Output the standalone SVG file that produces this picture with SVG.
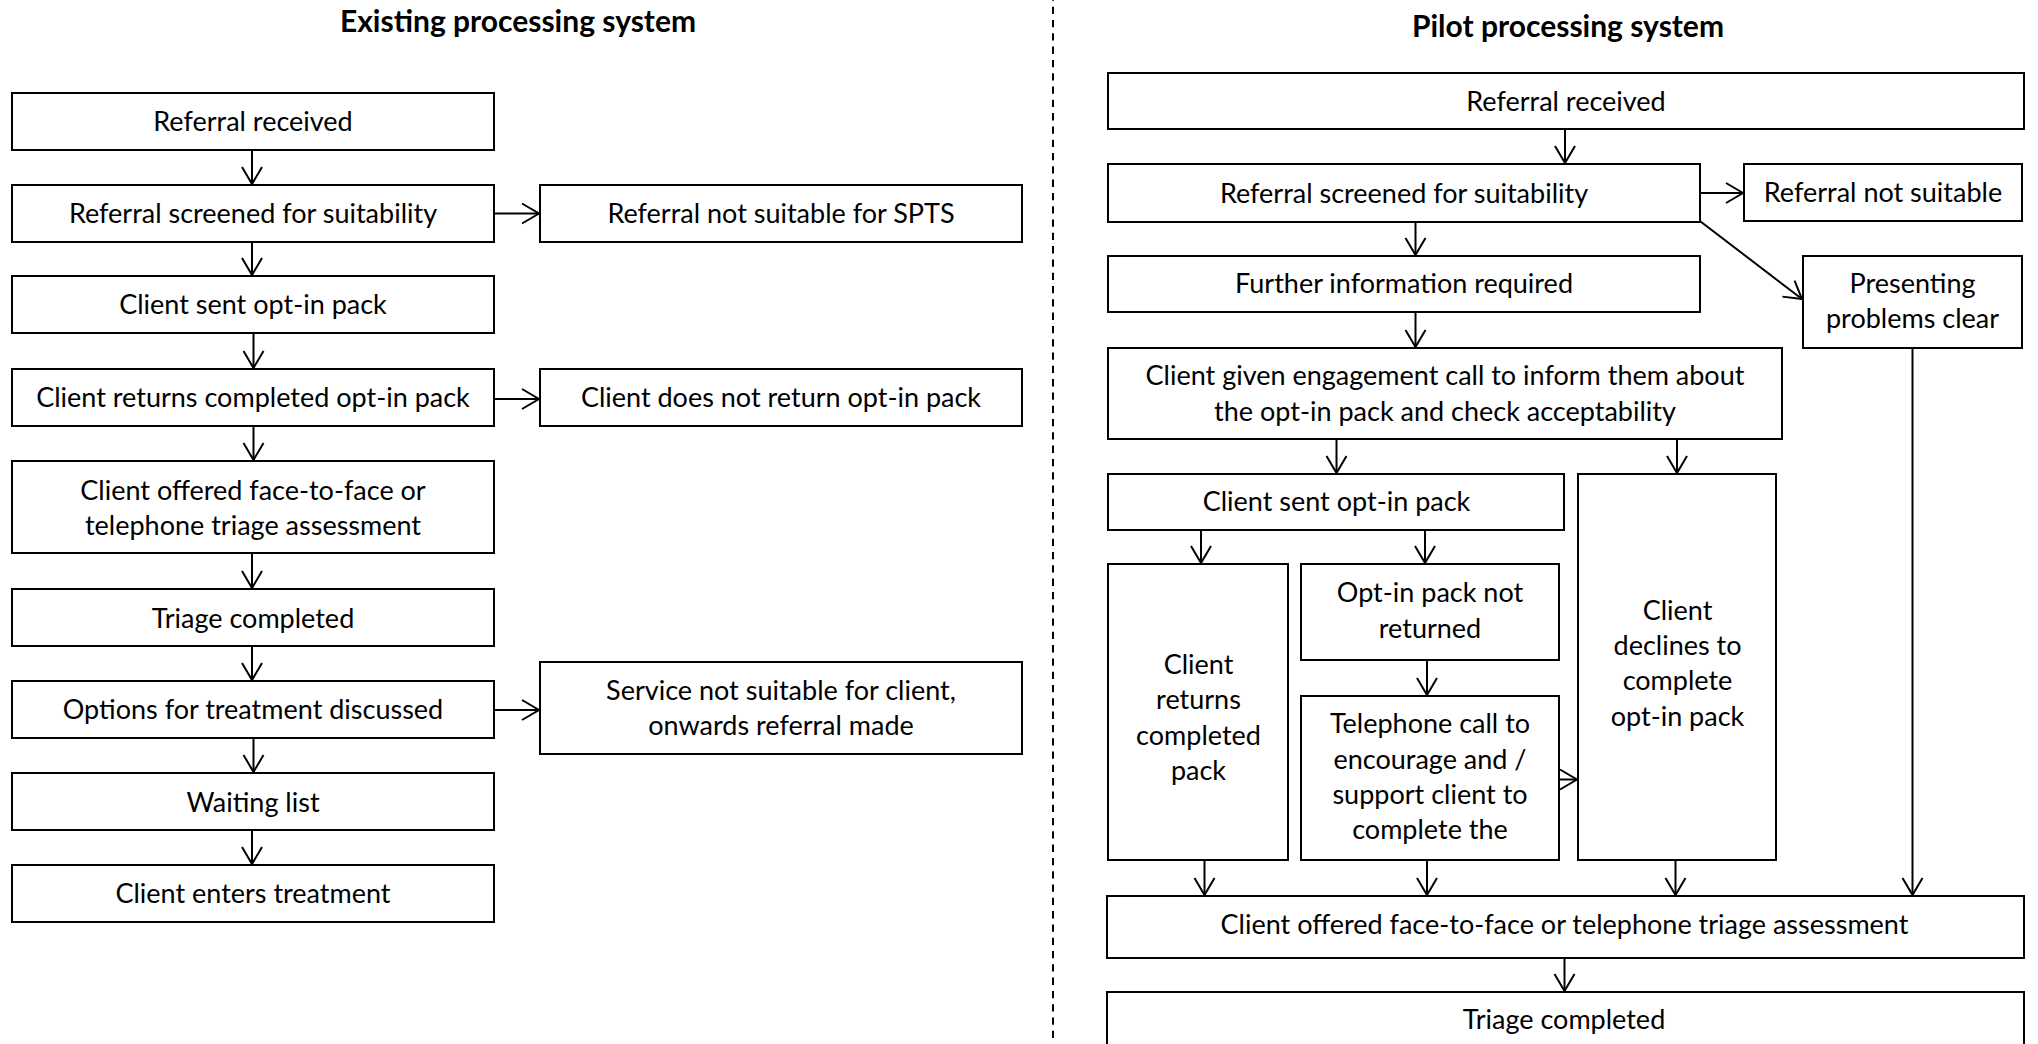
<svg xmlns="http://www.w3.org/2000/svg" width="2038" height="1044" viewBox="0 0 2038 1044">
  <style>
    .box { fill: #fff; stroke: #000; stroke-width: 2; }
    .t { font-family: "Lato", "Open Sans", sans-serif; font-size: 27px; text-anchor: middle; fill: #000; }
    .title { font-family: "Lato", "Open Sans", sans-serif; font-size: 30px; font-weight: bold; text-anchor: middle; fill: #000; }
    .c { fill: none; stroke: #000; stroke-width: 2; marker-end: url(#ah); }
    .divider { stroke: #000; stroke-width: 2; stroke-dasharray: 7.3 6; stroke-dashoffset: 6.6; }
  </style>
  <defs>
    <marker id="ah" markerUnits="userSpaceOnUse" markerWidth="24" markerHeight="24" viewBox="-20 -12 24 24" refX="0" refY="0" orient="auto">
      <path d="M-17,-10 L0,0 L-17,10" fill="none" stroke="#000" stroke-width="2"/>
    </marker>
  </defs>
  <rect width="2038" height="1044" fill="#fff"/>

  <!-- headings and divider -->
  <text class="title" x="518" y="32">Existing processing system</text>
  <text class="title" x="1568" y="37">Pilot processing system</text>
  <line class="divider" x1="1053" y1="0" x2="1053" y2="1044"/>

  <!-- existing system: connectors -->
  <g id="connectors-existing">
    <line class="c" x1="252" y1="150" x2="252" y2="184"/>
    <line class="c" x1="252" y1="242" x2="252" y2="275"/>
    <line class="c" x1="253.5" y1="333" x2="253.5" y2="368"/>
    <line class="c" x1="253.5" y1="426" x2="253.5" y2="460"/>
    <line class="c" x1="252" y1="553" x2="252" y2="588"/>
    <line class="c" x1="252" y1="646" x2="252" y2="680"/>
    <line class="c" x1="253.5" y1="738" x2="253.5" y2="772"/>
    <line class="c" x1="252" y1="830" x2="252" y2="864"/>
    <line class="c" x1="494" y1="213.5" x2="539" y2="213.5"/>
    <line class="c" x1="494" y1="399" x2="539" y2="399"/>
    <line class="c" x1="494" y1="710" x2="539" y2="710"/>
  </g>

  <!-- existing system: nodes -->
  <g id="ex-referral-received"><rect class="box" x="12" y="93" width="482" height="57"/><text class="t" x="253" y="131">Referral received</text></g>
  <g id="ex-referral-screened"><rect class="box" x="12" y="185" width="482" height="57"/><text class="t" x="253" y="222.5">Referral screened for suitability</text></g>
  <g id="ex-not-suitable"><rect class="box" x="540" y="185" width="482" height="57"/><text class="t" x="781" y="222.5">Referral not suitable for SPTS</text></g>
  <g id="ex-sent-pack"><rect class="box" x="12" y="276" width="482" height="57"/><text class="t" x="253" y="313.5">Client sent opt-in pack</text></g>
  <g id="ex-returns-pack"><rect class="box" x="12" y="369" width="482" height="57"/><text class="t" x="253" y="406.5">Client returns completed opt-in pack</text></g>
  <g id="ex-no-return"><rect class="box" x="540" y="369" width="482" height="57"/><text class="t" x="781" y="406.5">Client does not return opt-in pack</text></g>
  <g id="ex-offered-triage"><rect class="box" x="12" y="461" width="482" height="92"/><text class="t" x="253" y="499.5">Client offered face-to-face or</text><text class="t" x="253" y="534.5">telephone triage assessment</text></g>
  <g id="ex-triage-completed"><rect class="box" x="12" y="589" width="482" height="57"/><text class="t" x="253" y="627.5">Triage completed</text></g>
  <g id="ex-options"><rect class="box" x="12" y="681" width="482" height="57"/><text class="t" x="253" y="719">Options for treatment discussed</text></g>
  <g id="ex-service-not-suitable"><rect class="box" x="540" y="662" width="482" height="92"/><text class="t" x="781" y="700">Service not suitable for client,</text><text class="t" x="781" y="735">onwards referral made</text></g>
  <g id="ex-waiting-list"><rect class="box" x="12" y="773" width="482" height="57"/><text class="t" x="253" y="811.5">Waiting list</text></g>
  <g id="ex-enters-treatment"><rect class="box" x="12" y="865" width="482" height="57"/><text class="t" x="253" y="903">Client enters treatment</text></g>

  <!-- pilot system: connectors -->
  <g id="connectors-pilot">
    <line class="c" x1="1565" y1="129" x2="1565" y2="163"/>
    <line class="c" x1="1700" y1="193" x2="1743" y2="193"/>
    <line class="c" x1="1700.5" y1="221.5" x2="1802" y2="299"/>
    <line class="c" x1="1415.5" y1="222" x2="1415.5" y2="255"/>
    <line class="c" x1="1415.5" y1="312" x2="1415.5" y2="347"/>
    <line class="c" x1="1336.5" y1="439" x2="1336.5" y2="473"/>
    <line class="c" x1="1677" y1="439" x2="1677" y2="473"/>
    <line class="c" x1="1201" y1="530" x2="1201" y2="563"/>
    <line class="c" x1="1425" y1="530" x2="1425" y2="563"/>
    <line class="c" x1="1427" y1="660" x2="1427" y2="695"/>
    <line class="c" x1="1559" y1="779.5" x2="1577" y2="779.5"/>
    <line class="c" x1="1204.5" y1="860" x2="1204.5" y2="895"/>
    <line class="c" x1="1427" y1="860" x2="1427" y2="895"/>
    <line class="c" x1="1675.5" y1="860" x2="1675.5" y2="895"/>
    <line class="c" x1="1912.5" y1="348" x2="1912.5" y2="895"/>
    <line class="c" x1="1564.5" y1="958" x2="1564.5" y2="991"/>
  </g>

  <!-- pilot system: nodes -->
  <g id="pi-referral-received"><rect class="box" x="1108" y="73" width="916" height="56"/><text class="t" x="1566" y="111">Referral received</text></g>
  <g id="pi-referral-screened"><rect class="box" x="1108" y="164" width="592" height="58"/><text class="t" x="1404" y="203">Referral screened for suitability</text></g>
  <g id="pi-not-suitable"><rect class="box" x="1744" y="164" width="278" height="57"/><text class="t" x="1883" y="202">Referral not suitable</text></g>
  <g id="pi-further-info"><rect class="box" x="1108" y="256" width="592" height="56"/><text class="t" x="1404" y="293">Further information required</text></g>
  <g id="pi-presenting-clear"><rect class="box" x="1803" y="256" width="219" height="92"/><text class="t" x="1912.5" y="293">Presenting</text><text class="t" x="1912.5" y="328">problems clear</text></g>
  <g id="pi-engagement-call"><rect class="box" x="1108" y="348" width="674" height="91"/><text class="t" x="1445" y="385">Client given engagement call to inform them about</text><text class="t" x="1445" y="420.5">the opt-in pack and check acceptability</text></g>
  <g id="pi-sent-pack"><rect class="box" x="1108" y="474" width="456" height="56"/><text class="t" x="1336.5" y="511">Client sent opt-in pack</text></g>
  <g id="pi-returns-pack"><rect class="box" x="1108" y="564" width="180" height="296"/><text class="t" x="1198.5" y="674">Client</text><text class="t" x="1198.5" y="709">returns</text><text class="t" x="1198.5" y="744.5">completed</text><text class="t" x="1198.5" y="779.5">pack</text></g>
  <g id="pi-not-returned"><rect class="box" x="1301" y="564" width="258" height="96"/><text class="t" x="1430" y="601.5">Opt-in pack not</text><text class="t" x="1430" y="637.5">returned</text></g>
  <g id="pi-telephone-call"><rect class="box" x="1301" y="696" width="258" height="164"/><text class="t" x="1430" y="733">Telephone call to</text><text class="t" x="1430" y="768.5">encourage and /</text><text class="t" x="1430" y="804">support client to</text><text class="t" x="1430" y="839">complete the</text></g>
  <g id="pi-declines"><rect class="box" x="1578" y="474" width="198" height="386"/><text class="t" x="1677.5" y="620">Client</text><text class="t" x="1677.5" y="654.5">declines to</text><text class="t" x="1677.5" y="690">complete</text><text class="t" x="1677.5" y="725.5">opt-in pack</text></g>
  <g id="pi-offered-triage"><rect class="box" x="1107" y="896" width="917" height="62"/><text class="t" x="1564.5" y="934">Client offered face-to-face or telephone triage assessment</text></g>
  <g id="pi-triage-completed"><rect class="box" x="1107" y="992" width="917" height="70"/><text class="t" x="1564" y="1029">Triage completed</text></g>
</svg>
